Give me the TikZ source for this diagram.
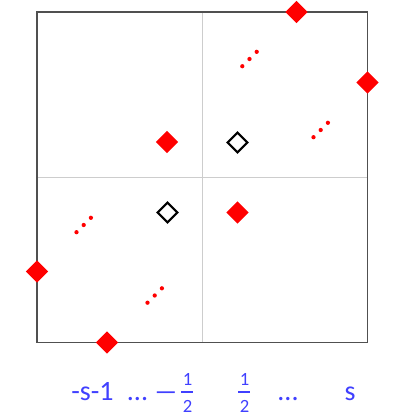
\documentclass[tikz,border=0pt]{standalone}
\usepackage{fontspec}
\setmainfont{Carlito}
\usepackage{tikz}
\usetikzlibrary{shapes.geometric}

\definecolor{labelblue}{RGB}{64,64,255}
\definecolor{framegray}{RGB}{80,80,80}
\definecolor{gridgray}{RGB}{205,205,205}

\tikzset{
  redgem/.style={diamond, fill=red, inner sep=0pt, minimum size=17pt},
  opengem/.style={diamond, draw=black, line width=1.6pt, fill=white, inner sep=0pt, minimum size=15.5pt},
  axislabel/.style={text=labelblue, anchor=base, inner sep=0pt, font=\fontsize{21}{25}\selectfont},
  fracdigit/.style={text=labelblue, anchor=base, inner sep=0pt, font=\fontsize{14}{16}\selectfont},
  fracbar/.style={labelblue, line width=1.5pt}
}

\begin{document}
\begin{tikzpicture}[x=0.75pt, y=-0.75pt]
\useasboundingbox (0,0) rectangle (398,419);

% ── Grid and frame ───────────────────────────────────────────────
\draw[gridgray, line width=0.7pt] (202.5,12) -- (202.5,342.5);
\draw[gridgray, line width=0.7pt] (37,177.5) -- (367.5,177.5);
\draw[framegray, line width=1.1pt] (37,12) rectangle (367.5,342.5);

% ── Red points ───────────────────────────────────────────────────
\foreach \name/\x/\y in {top/296.5/12, right/367.5/82.5, ul/167/142,
                        lr/237.5/212.5, left/37/271.5, bot/107/342.5} {
    \node[redgem] (r\name) at (\x,\y) {};
}

% ── Open points ──────────────────────────────────────────────────
\node[opengem] (oa) at (237.5,142.5) {};
\node[opengem] (ob) at (167.5,212.5) {};

% ── Dots between points ──────────────────────────────────────────
\foreach \x/\y in {249.5/59, 320.7/130, 83.7/225, 154.7/295.5} {
    \foreach \k in {-1,0,1} {
        \fill[red] (\x+7.2*\k,\y-7.2*\k) circle (1.6pt);
    }
}

% ── Labels ───────────────────────────────────────────────────────
\node[axislabel] (lminus) at (92.5,400) {-s-1};
\node[axislabel] (ldotsa) at (137.5,400) {...};
\node[axislabel] (lneg) at (166,400) {\scalebox{1.8}[1]{\textendash}};
\foreach \name/\x in {hm/187.5, hp/244.5} {
    \node[fracdigit] (n\name) at (\x,385.5) {1};
    \node[fracdigit] (d\name) at (\x,412) {2};
    \draw[fracbar] ([xshift=-4.5pt]n\name.base |- 0,392) -- ([xshift=4.5pt]n\name.base |- 0,392);
}
\node[axislabel] (ldotsb) at (288,400) {...};
\node[axislabel] (ls) at (350,400) {s};

\end{tikzpicture}
\end{document}
